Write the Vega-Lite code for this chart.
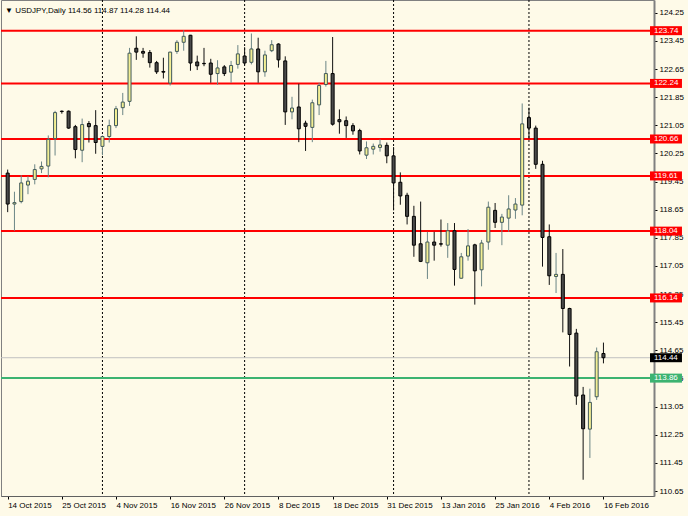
{
  "$schema": "https://vega.github.io/schema/vega-lite/v6.json",
  "width": 653,
  "height": 496,
  "autosize": {"type": "none"},
  "padding": {"left": 1, "top": 0, "right": 34, "bottom": 20},
  "background": "#FEFAE8",
  "title": {"text": "▼ USDJPY,Daily  114.56 114.87 114.28 114.44", "anchor": "start", "frame": "group", "offset": -21, "fontSize": 8, "font": "Liberation Sans", "fontWeight": "normal", "color": "#000000", "dx": 4, "baseline": "alphabetic"},
  "config": {
    "view": {"stroke": "#808080", "strokeWidth": 1},
    "font": "Liberation Sans",
    "axisX": {"labelAlign": "left", "labelBaseline": "top", "labelPadding": 2, "labelFlush": false, "labelOverlap": false, "labelBound": false,
      "labelFontSize": 8, "labelFont": "Liberation Sans", "labelColor": "#000000", "tickSize": 3, "tickColor": "#000000",
      "domainColor": "#606060", "grid": false, "title": null},
    "axisY": {"labelAlign": "left", "labelBaseline": "middle", "labelPadding": 2, "labelOverlap": false, "labelFlush": false, "labelBound": false,
      "labelFontSize": 8, "labelFont": "Liberation Sans", "labelColor": "#000000", "tickSize": 3, "tickColor": "#000000",
      "domainColor": "#808080", "domainWidth": 2, "grid": false, "title": null}
  },
  "datasets": {
    "candles": [
      {"i":0,"o":119.69,"h":119.79,"l":118.58,"c":118.81},
      {"i":1,"o":118.81,"h":119.16,"l":118.05,"c":118.85},
      {"i":2,"o":118.88,"h":119.63,"l":118.83,"c":119.41},
      {"i":3,"o":119.35,"h":119.60,"l":119.09,"c":119.46},
      {"i":4,"o":119.51,"h":119.94,"l":119.37,"c":119.79},
      {"i":5,"o":119.81,"h":120.02,"l":119.69,"c":119.88},
      {"i":6,"o":119.89,"h":120.76,"l":119.57,"c":120.65},
      {"i":7,"o":120.67,"h":121.46,"l":120.19,"c":121.41},
      {"i":8,"o":121.45,"h":121.47,"l":121.38,"c":121.44},
      {"i":9,"o":121.45,"h":121.47,"l":120.95,"c":120.97},
      {"i":10,"o":121.01,"h":121.06,"l":120.11,"c":120.36},
      {"i":11,"o":120.34,"h":121.24,"l":120.00,"c":121.07},
      {"i":12,"o":121.10,"h":121.17,"l":120.56,"c":121.01},
      {"i":13,"o":121.04,"h":121.48,"l":120.24,"c":120.56},
      {"i":14,"o":120.45,"h":120.76,"l":120.20,"c":120.73},
      {"i":15,"o":120.73,"h":121.21,"l":120.56,"c":121.04},
      {"i":16,"o":121.04,"h":121.60,"l":120.97,"c":121.52},
      {"i":17,"o":121.55,"h":121.97,"l":121.34,"c":121.71},
      {"i":18,"o":121.73,"h":123.25,"l":121.60,"c":123.10},
      {"i":19,"o":123.24,"h":123.58,"l":122.91,"c":123.13},
      {"i":20,"o":123.15,"h":123.25,"l":122.97,"c":123.10},
      {"i":21,"o":123.12,"h":123.19,"l":122.69,"c":122.83},
      {"i":22,"o":122.83,"h":122.88,"l":122.51,"c":122.57},
      {"i":23,"o":122.58,"h":122.97,"l":122.38,"c":122.56},
      {"i":24,"o":122.25,"h":123.14,"l":122.18,"c":123.13},
      {"i":25,"o":123.15,"h":123.47,"l":123.08,"c":123.41},
      {"i":26,"o":123.41,"h":123.75,"l":123.17,"c":123.58},
      {"i":27,"o":123.61,"h":123.62,"l":122.60,"c":122.82},
      {"i":28,"o":122.85,"h":123.03,"l":122.62,"c":122.74},
      {"i":29,"o":122.81,"h":123.25,"l":122.73,"c":122.80},
      {"i":30,"o":122.82,"h":122.94,"l":122.26,"c":122.50},
      {"i":31,"o":122.52,"h":122.90,"l":122.20,"c":122.68},
      {"i":32,"o":122.71,"h":122.76,"l":122.45,"c":122.52},
      {"i":33,"o":122.56,"h":122.88,"l":122.26,"c":122.75},
      {"i":34,"o":122.78,"h":123.33,"l":122.66,"c":123.08},
      {"i":35,"o":123.02,"h":123.27,"l":122.76,"c":122.82},
      {"i":36,"o":122.84,"h":123.66,"l":122.78,"c":123.22},
      {"i":37,"o":123.22,"h":123.54,"l":122.26,"c":122.57},
      {"i":38,"o":122.57,"h":123.17,"l":122.43,"c":123.05},
      {"i":39,"o":123.17,"h":123.47,"l":123.13,"c":123.34},
      {"i":40,"o":123.36,"h":123.38,"l":122.69,"c":122.91},
      {"i":41,"o":122.88,"h":123.01,"l":121.06,"c":121.43},
      {"i":42,"o":121.43,"h":121.86,"l":121.22,"c":121.54},
      {"i":43,"o":121.57,"h":122.23,"l":120.57,"c":120.95},
      {"i":44,"o":121.11,"h":121.18,"l":120.32,"c":121.02},
      {"i":45,"o":120.99,"h":121.78,"l":120.57,"c":121.69},
      {"i":46,"o":121.63,"h":122.26,"l":121.34,"c":122.18},
      {"i":47,"o":122.21,"h":122.88,"l":122.15,"c":122.52},
      {"i":48,"o":122.52,"h":123.56,"l":121.04,"c":121.08},
      {"i":49,"o":121.21,"h":121.50,"l":120.81,"c":121.15},
      {"i":50,"o":121.18,"h":121.30,"l":120.69,"c":121.04},
      {"i":51,"o":121.04,"h":121.11,"l":120.78,"c":120.89},
      {"i":52,"o":120.90,"h":120.95,"l":120.22,"c":120.32},
      {"i":53,"o":120.20,"h":120.59,"l":120.09,"c":120.41},
      {"i":54,"o":120.37,"h":120.53,"l":120.22,"c":120.45},
      {"i":55,"o":120.42,"h":120.65,"l":120.30,"c":120.49},
      {"i":56,"o":120.48,"h":120.56,"l":119.97,"c":120.18},
      {"i":57,"o":120.18,"h":120.43,"l":118.63,"c":119.41},
      {"i":58,"o":119.43,"h":119.71,"l":118.79,"c":119.04},
      {"i":59,"o":119.06,"h":119.13,"l":118.23,"c":118.46},
      {"i":60,"o":118.46,"h":118.76,"l":117.31,"c":117.64},
      {"i":61,"o":117.68,"h":118.88,"l":117.16,"c":117.18},
      {"i":62,"o":117.14,"h":118.02,"l":116.68,"c":117.73},
      {"i":63,"o":117.73,"h":118.02,"l":117.20,"c":117.64},
      {"i":64,"o":117.68,"h":118.37,"l":117.60,"c":117.67},
      {"i":65,"o":117.64,"h":118.27,"l":117.28,"c":118.05},
      {"i":66,"o":118.05,"h":118.27,"l":116.49,"c":116.95},
      {"i":67,"o":116.70,"h":117.42,"l":116.69,"c":117.31},
      {"i":68,"o":117.33,"h":118.10,"l":117.20,"c":117.62},
      {"i":69,"o":117.65,"h":117.68,"l":115.95,"c":116.91},
      {"i":70,"o":116.94,"h":117.79,"l":116.47,"c":117.70},
      {"i":71,"o":117.73,"h":118.88,"l":117.51,"c":118.72},
      {"i":72,"o":118.63,"h":118.84,"l":118.13,"c":118.29},
      {"i":73,"o":118.29,"h":118.53,"l":117.64,"c":118.44},
      {"i":74,"o":118.41,"h":119.06,"l":118.02,"c":118.67},
      {"i":75,"o":118.64,"h":118.98,"l":118.39,"c":118.81},
      {"i":76,"o":118.78,"h":121.67,"l":118.49,"c":121.09},
      {"i":77,"o":121.27,"h":121.55,"l":120.67,"c":120.97},
      {"i":78,"o":120.97,"h":121.04,"l":119.81,"c":119.94},
      {"i":79,"o":119.94,"h":120.04,"l":117.03,"c":117.86},
      {"i":80,"o":117.88,"h":118.23,"l":116.51,"c":116.77},
      {"i":81,"o":116.75,"h":117.42,"l":116.28,"c":116.81},
      {"i":82,"o":116.81,"h":117.53,"l":115.16,"c":115.84},
      {"i":83,"o":115.84,"h":115.86,"l":114.19,"c":115.10},
      {"i":84,"o":115.14,"h":115.26,"l":113.10,"c":113.35},
      {"i":85,"o":113.38,"h":113.61,"l":110.97,"c":112.42},
      {"i":86,"o":112.41,"h":113.56,"l":111.59,"c":113.17},
      {"i":87,"o":113.33,"h":114.73,"l":113.24,"c":114.61},
      {"i":88,"o":114.56,"h":114.87,"l":114.28,"c":114.44}
    ],
    "levels": [
      {"p":123.74,"t":"r"},
      {"p":122.24,"t":"r"},
      {"p":120.66,"t":"r"},
      {"p":119.61,"t":"r"},
      {"p":118.04,"t":"r"},
      {"p":116.14,"t":"r"},
      {"p":114.44,"t":"b"},
      {"p":113.86,"t":"g"}
    ],
    "seps": [{"i":14},{"i":35},{"i":57},{"i":77}]
  },
  "layer": [
    {
      "data": {"name": "candles"},
      "mark": {"type": "rule", "strokeWidth": 1},
      "encoding": {
        "x": {"field": "i", "type": "quantitative", "title": null, "scale": {"domain": [-0.247, 94.73], "nice": false, "zero": false},
          "axis": {"orient": "bottom", "tickCount": 30, "values": [0, 8, 16, 24, 32, 40, 48, 56, 64, 72, 80, 88], "labelOverlap": false, "labelFlush": false,
            "labelExpr": "['14 Oct 2015','25 Oct 2015','4 Nov 2015','16 Nov 2015','26 Nov 2015','8 Dec 2015','18 Dec 2015','31 Dec 2015','13 Jan 2016','25 Jan 2016','4 Feb 2016','16 Feb 2016'][round(datum.value/8)]"}},
        "y": {"field": "l", "type": "quantitative", "title": null, "scale": {"domain": [110.65, 124.47], "nice": false, "zero": false},
          "axis": {"orient": "right", "tickCount": 30, "labelOverlap": false, "labelFlush": false, "labelBound": false, "values": [124.25, 123.45, 122.65, 121.85, 121.05, 120.25, 119.45, 118.65, 117.85, 117.05, 116.25, 115.45, 114.65, 113.85, 113.05, 112.25, 111.45, 110.65], "format": ".2f"}},
        "y2": {"field": "h"},
        "stroke": {"value": "#FEFAE8"}
      }
    },
    {
      "data": {"name": "seps"},
      "mark": {"type": "rule", "strokeDash": [2, 2], "color": "#000000", "strokeWidth": 1},
      "encoding": {
        "x": {"field": "i", "type": "quantitative", "title": null}
      }
    },
    {
      "data": {"name": "levels"},
      "mark": {"type": "rule"},
      "encoding": {
        "y": {"field": "p", "type": "quantitative", "title": null},
        "stroke": {"condition": [{"test": "datum.t==='g'", "value": "#3CB371"}, {"test": "datum.t==='b'", "value": "#C0C0C0"}], "value": "#FF0000"},
        "strokeWidth": {"condition": {"test": "datum.t==='b'", "value": 1}, "value": 2}
      }
    },
    {
      "data": {"name": "candles"},
      "mark": {"type": "rule", "strokeWidth": 1},
      "encoding": {
        "x": {"field": "i", "type": "quantitative", "title": null},
        "y": {"field": "l", "type": "quantitative", "title": null},
        "y2": {"field": "h"},
        "stroke": {"condition": {"test": "datum.c >= datum.o", "value": "#6B8585"}, "value": "#111111"}
      }
    },
    {
      "data": {"name": "candles"},
      "mark": {"type": "bar", "size": 3, "strokeWidth": 1},
      "encoding": {
        "x": {"field": "i", "type": "quantitative", "title": null},
        "y": {"field": "o", "type": "quantitative", "title": null},
        "y2": {"field": "c"},
        "fill": {"condition": {"test": "datum.c >= datum.o", "value": "#F3EF94"}, "value": "#4A4A4A"},
        "stroke": {"condition": {"test": "datum.c >= datum.o", "value": "#41595B"}, "value": "#000000"}
      }
    },
    {
      "data": {"name": "levels"},
      "mark": {"type": "bar", "orient": "horizontal", "size": 9},
      "encoding": {
        "y": {"field": "p", "type": "quantitative", "title": null},
        "x": {"datum": 94.88, "type": "quantitative", "title": null},
        "x2": {"datum": 99.6},
        "fill": {"condition": [{"test": "datum.t==='g'", "value": "#3CB371"}, {"test": "datum.t==='b'", "value": "#000000"}], "value": "#FF0000"}
      }
    },
    {
      "data": {"name": "levels"},
      "mark": {"type": "text", "align": "left", "baseline": "middle", "fontSize": 8, "font": "Liberation Sans", "color": "#FFFFFF"},
      "encoding": {
        "y": {"field": "p", "type": "quantitative", "title": null},
        "x": {"datum": 95.46, "type": "quantitative", "title": null},
        "text": {"field": "p", "type": "quantitative", "format": ".2f"}
      }
    }
  ]
}
